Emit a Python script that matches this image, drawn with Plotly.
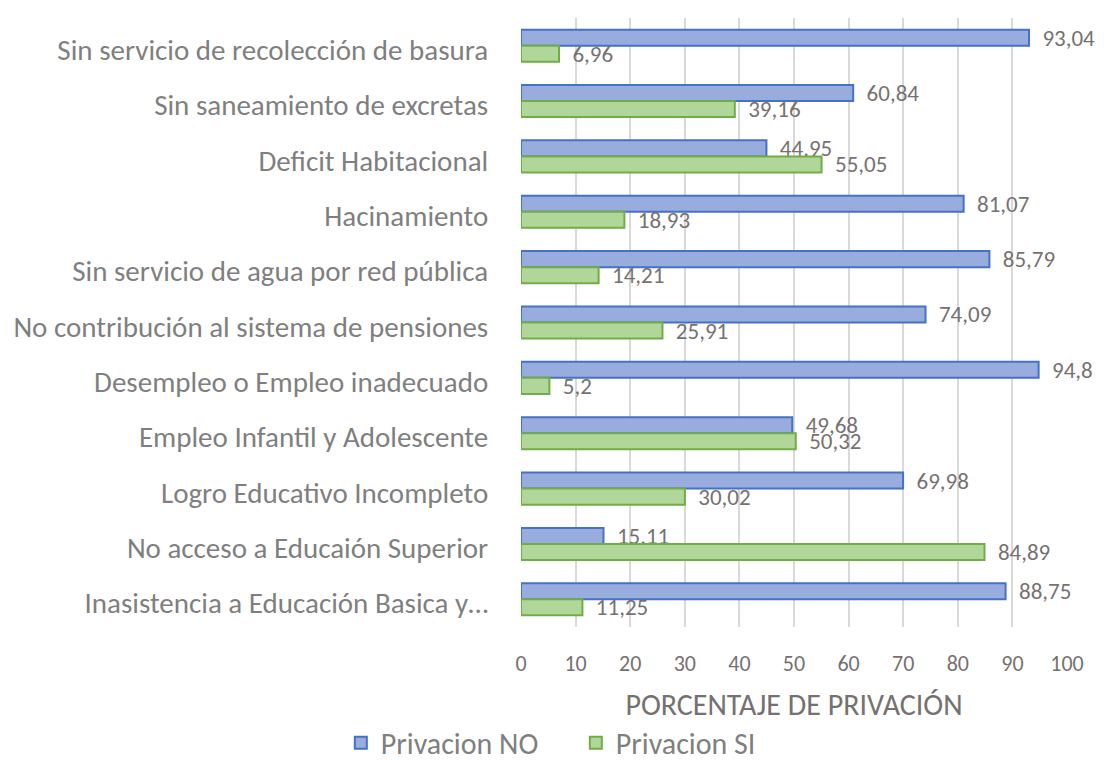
import plotly.graph_objects as go

categories = [
    "Sin servicio de recolección de basura",
    "Sin saneamiento de excretas",
    "Deficit Habitacional",
    "Hacinamiento",
    "Sin servicio de agua por red pública",
    "No contribución al sistema de pensiones",
    "Desempleo o Empleo inadecuado",
    "Empleo Infantil y Adolescente",
    "Logro Educativo Incompleto",
    "No acceso a Educaión Superior",
    "Inasistencia a Educación Basica y…",
]
privacion_no = [93.04, 60.84, 44.95, 81.07, 85.79, 74.09, 94.8, 49.68, 69.98, 15.11, 88.75]
privacion_si = [6.96, 39.16, 55.05, 18.93, 14.21, 25.91, 5.2, 50.32, 30.02, 84.89, 11.25]
x_ticks = [0, 10, 20, 30, 40, 50, 60, 70, 80, 90, 100]


def fmt(v):
    s = f"{v:.2f}".rstrip("0").rstrip(".")
    return s.replace(".", ",")


FONT = "Carlito, Calibri, Lato, sans-serif"
LABEL_GRAY = "#767171"
TEXT_GRAY = "#7F7F7F"

fig = go.Figure()
fig.add_trace(go.Bar(
    y=categories, x=privacion_no, orientation="h", name="Privacion NO",
    marker=dict(color="#98ACDE", line=dict(color="#4472C4", width=2)),
    text=[fmt(v) for v in privacion_no], texttemplate="\u00a0\u00a0%{text}",
    textposition="outside", constraintext="none",
    textfont=dict(color=LABEL_GRAY, size=23, family=FONT), cliponaxis=False,
))
fig.add_trace(go.Bar(
    y=categories, x=privacion_si, orientation="h", name="Privacion SI",
    marker=dict(color="#B1D69A", line=dict(color="#70AD47", width=2)),
    text=[fmt(v) for v in privacion_si], texttemplate="\u00a0\u00a0%{text}",
    textposition="outside", constraintext="none",
    textfont=dict(color=LABEL_GRAY, size=23, family=FONT), cliponaxis=False,
))

fig.update_layout(
    width=1105, height=763,
    paper_bgcolor="white", plot_bgcolor="white",
    barmode="group", bargap=0.42, bargroupgap=0,
    margin=dict(l=521, r=38, t=18, b=136, autoexpand=False),
    font=dict(family=FONT, color=TEXT_GRAY),
    showlegend=True,
    legend=dict(orientation="h", x=-0.33, xanchor="left", entrywidth=190,
                y=-0.19, yanchor="middle", valign="middle",
                font=dict(size=30, color=TEXT_GRAY, family=FONT)),
)
fig.update_xaxes(
    range=[0, 100], tickvals=x_ticks, showgrid=True, gridcolor="#D9D9D9", gridwidth=2,
    zeroline=False, showline=False, automargin=False,
    ticks="outside", ticklen=17, tickcolor="rgba(0,0,0,0)",
    tickfont=dict(size=22, color=LABEL_GRAY, family=FONT),
    title=dict(text="PORCENTAJE DE PRIVACIÓN", font=dict(size=30, color=LABEL_GRAY, family=FONT), standoff=17),
)
fig.update_yaxes(
    autorange="reversed", showgrid=False, showline=False, automargin=False,
    ticks="outside", ticklen=26, tickcolor="rgba(0,0,0,0)", ticklabelshift=-4,
    tickfont=dict(size=29, color=TEXT_GRAY, family=FONT),
)

fig.write_html("out.html", config={"displayModeBar": False},
               post_script="document.body.style.margin='0';")
